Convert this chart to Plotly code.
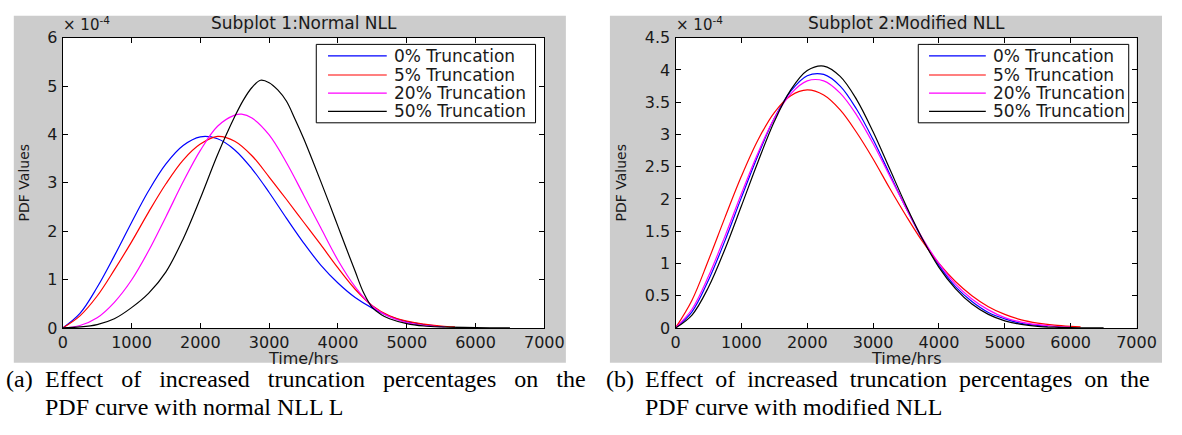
import plotly.graph_objects as go

W, H = 1182, 435

# ---------------- data (PDF values in units of 1e-4) ----------------
series_names = ["0% Truncation", "5% Truncation", "20% Truncation", "50% Truncation"]
series_colors = ["#0000ff", "#ff0000", "#ff00ff", "#000000"]

# Subplot 1 : Normal NLL
t1_blue = [0, 250, 500, 750, 1000, 1250, 1500, 1750, 2000, 2250, 2500, 2750, 3000, 3250,
           3500, 3750, 4000, 4250, 4500, 4750, 5000, 5250, 5450]
pdf1_blue = [0, 0.30, 0.84, 1.49, 2.18, 2.84, 3.39, 3.77, 3.95, 3.91, 3.68, 3.29, 2.80, 2.27,
             1.76, 1.30, 0.93, 0.63, 0.41, 0.24, 0.13, 0.07, 0.04]

t1_red = [0, 250, 500, 750, 1000, 1250, 1500, 1750, 2000, 2250, 2500, 2750, 3000, 3250,
          3500, 3750, 4000, 4250, 4500, 4750, 5000, 5250, 5500, 5700]
pdf1_red = [0, 0.25, 0.66, 1.20, 1.78, 2.40, 2.98, 3.47, 3.80, 3.96, 3.86, 3.56, 3.12, 2.66,
            2.19, 1.72, 1.24, 0.80, 0.46, 0.25, 0.14, 0.08, 0.04, 0.02]

t1_mag = [0, 250, 500, 750, 1000, 1250, 1500, 1750, 2000, 2250, 2500, 2600, 2750, 3000, 3250,
          3500, 3750, 4000, 4250, 4500, 4750, 5000, 5250, 5550]
pdf1_mag = [0, 0.05, 0.21, 0.53, 0.99, 1.60, 2.30, 3.02, 3.67, 4.17, 4.40, 4.42, 4.34, 3.99, 3.42,
            2.75, 2.07, 1.40, 0.85, 0.45, 0.23, 0.11, 0.05, 0.02]

t1_blk = [0, 250, 500, 750, 1000, 1250, 1500, 1750, 2000, 2250, 2500, 2625, 2750, 2875, 3000,
          3125, 3250, 3375, 3500, 3625, 3750, 3875, 4000, 4125, 4250, 4375, 4500, 4625, 4750,
          5000, 5250, 5500, 6000, 6500]
pdf1_blk = [0, 0.02, 0.07, 0.19, 0.42, 0.72, 1.16, 1.84, 2.68, 3.58, 4.37, 4.71, 4.97, 5.12, 5.07,
            4.92, 4.69, 4.32, 3.92, 3.48, 3.03, 2.57, 2.10, 1.63, 1.17, 0.72, 0.42, 0.28, 0.19,
            0.09, 0.04, 0.02, 0.005, 0.0]

# Subplot 2 : Modified NLL
t2_blue = [0, 250, 500, 750, 1000, 1250, 1500, 1750, 2000, 2250, 2500, 2750, 3000, 3250,
           3500, 3750, 4000, 4250, 4500, 4750, 5000, 5250, 5500, 5650]
pdf2_blue = [0, 0.25, 0.74, 1.35, 2.02, 2.67, 3.25, 3.67, 3.91, 3.93, 3.75, 3.39, 2.92, 2.39,
             1.86, 1.37, 0.97, 0.64, 0.41, 0.24, 0.14, 0.07, 0.04, 0.025]

t2_red = [0, 250, 500, 750, 1000, 1250, 1500, 1750, 2000, 2250, 2500, 2750, 3000, 3250,
          3500, 3750, 4000, 4250, 4500, 4750, 5000, 5250, 5500, 5750, 6000, 6150]
pdf2_red = [0, 0.43, 1.05, 1.71, 2.35, 2.91, 3.34, 3.60, 3.69, 3.61, 3.38, 3.03, 2.62, 2.17,
            1.74, 1.34, 1.00, 0.72, 0.50, 0.33, 0.21, 0.125, 0.074, 0.042, 0.023, 0.016]

t2_mag = [0, 250, 500, 750, 1000, 1250, 1500, 1750, 2000, 2250, 2500, 2750, 3000, 3250,
          3500, 3750, 4000, 4250, 4500, 4750, 5000, 5250, 5500, 5750, 6000]
pdf2_mag = [0, 0.29, 0.80, 1.42, 2.08, 2.71, 3.25, 3.63, 3.83, 3.83, 3.64, 3.30, 2.86, 2.36,
            1.86, 1.39, 1.00, 0.68, 0.45, 0.28, 0.16, 0.09, 0.05, 0.025, 0.012]

t2_blk = [0, 250, 500, 750, 1000, 1250, 1500, 1750, 2000, 2250, 2500, 2750, 3000, 3250,
          3500, 3750, 4000, 4250, 4500, 4750, 5000, 5250, 5500, 5750, 6000, 6250, 6500]
pdf2_blk = [0, 0.20, 0.63, 1.22, 1.89, 2.57, 3.20, 3.69, 3.99, 4.06, 3.90, 3.54, 3.04, 2.47,
            1.90, 1.38, 0.94, 0.61, 0.37, 0.21, 0.11, 0.055, 0.025, 0.011, 0.004, 0.0015, 0.0005]

x_ticks = [0, 1000, 2000, 3000, 4000, 5000, 6000, 7000]

titles = ["Subplot 1:Normal NLL", "Subplot 2:Modified NLL"]
x_label = "Time/hrs"
y_label = "PDF Values"
captions = [
    ("(a)", ["Effect", "of", "increased", "truncation", "percentages", "on", "the"],
     "PDF curve with normal NLL L"),
    ("(b)", ["Effect", "of", "increased", "truncation", "percentages", "on", "the"],
     "PDF curve with modified NLL"),
]

# ---------------- helpers (pixels -> paper fraction) ----------------
def xp(px):
    return px / W

def yp(py):
    return 1 - py / H

SANS = "DejaVu Sans"
SERIF = "Liberation Serif"
TXT = "#1a1a1a"
GREY = "#cccccc"

ax1 = dict(x0=59, x1=551, y0=30, y1=333.5)
ax2 = dict(x0=685, x1=1156, y0=30, y1=333.5)

fig = go.Figure()

sub1 = [(t1_blue, pdf1_blue), (t1_red, pdf1_red), (t1_mag, pdf1_mag), (t1_blk, pdf1_blk)]
sub2 = [(t2_blue, pdf2_blue), (t2_red, pdf2_red), (t2_mag, pdf2_mag), (t2_blk, pdf2_blk)]

for (t, v), name, col in zip(sub1, series_names, series_colors):
    fig.add_trace(go.Scatter(x=t, y=v, mode="lines", name=name, showlegend=False,
                             line=dict(color=col, width=1.2, shape="spline", smoothing=1.0),
                             xaxis="x", yaxis="y"))
for (t, v), name, col in zip(sub2, series_names, series_colors):
    fig.add_trace(go.Scatter(x=t, y=v, mode="lines", name=name, showlegend=False,
                             line=dict(color=col, width=1.2, shape="spline", smoothing=1.0),
                             xaxis="x2", yaxis="y2"))

axis_common = dict(showline=True, linecolor="black", linewidth=1, mirror="ticks",
                   ticks="inside", ticklen=5, tickcolor="black", tickwidth=1,
                   showgrid=False, zeroline=False,
                   tickfont=dict(family=SANS, size=16, color=TXT))

fig.update_layout(
    width=W, height=H,
    margin=dict(l=0, r=0, t=0, b=0),
    paper_bgcolor="white", plot_bgcolor="white",
    showlegend=False,
    xaxis=dict(domain=[xp(ax1["x0"]), xp(ax1["x1"])], range=[0, 7000], tickvals=x_ticks,
               anchor="y", **axis_common),
    yaxis=dict(domain=[yp(ax1["y1"]), yp(ax1["y0"])], range=[0, 6], dtick=1,
               anchor="x", ticklabelstandoff=1, **axis_common),
    xaxis2=dict(domain=[xp(ax2["x0"]), xp(ax2["x1"])], range=[0, 7000], tickvals=x_ticks,
                anchor="y2", **axis_common),
    yaxis2=dict(domain=[yp(ax2["y1"]), yp(ax2["y0"])], range=[0, 4.5], dtick=0.5,
                anchor="x2", ticklabelstandoff=1, **axis_common),
)

shapes = [
    dict(type="rect", xref="paper", yref="paper", x0=xp(9), x1=xp(573), y0=yp(370), y1=yp(7),
         fillcolor=GREY, line=dict(width=0), layer="below"),
    dict(type="rect", xref="paper", yref="paper", x0=xp(618), x1=xp(1182), y0=yp(370), y1=yp(7),
         fillcolor=GREY, line=dict(width=0), layer="below"),
]
for a in (ax1, ax2):
    shapes.append(dict(type="rect", xref="paper", yref="paper",
                       x0=xp(a["x0"]), x1=xp(a["x1"]), y0=yp(a["y1"]), y1=yp(a["y0"]),
                       fillcolor="white", line=dict(width=0), layer="below"))

ann = []

# legends (box, line samples, labels)
legend_boxes = [dict(x0=318, x1=542, line_x0=330, line_x1=390, text_x=396),
                dict(x0=933, x1=1148, line_x0=944, line_x1=1002, text_x=1008)]
legend_rows = [49, 69, 88, 107]
for lb in legend_boxes:
    shapes.append(dict(type="rect", xref="paper", yref="paper",
                       x0=xp(lb["x0"]), x1=xp(lb["x1"]), y0=yp(119), y1=yp(37),
                       fillcolor="white", line=dict(color="black", width=1), layer="above"))
    for name, col, ry in zip(series_names, series_colors, legend_rows):
        shapes.append(dict(type="line", xref="paper", yref="paper",
                           x0=xp(lb["line_x0"]), x1=xp(lb["line_x1"]), y0=yp(ry), y1=yp(ry),
                           line=dict(color=col, width=1.2), layer="above"))
        ann.append(dict(text=name, x=xp(lb["text_x"]), y=yp(ry), xref="paper", yref="paper",
                        xanchor="left", yanchor="middle", showarrow=False, borderpad=0,
                        font=dict(family=SANS, size=17, color=TXT)))

fig.update_layout(shapes=shapes)

for a, title, ylx in ((ax1, titles[0], 19), (ax2, titles[1], 629)):
    cx = (a["x0"] + a["x1"]) / 2
    ann.append(dict(text=title, x=xp(cx), y=yp(15), xref="paper", yref="paper",
                    xanchor="center", yanchor="middle", showarrow=False, borderpad=0,
                    font=dict(family=SANS, size=17, color=TXT)))
    ann.append(dict(text=x_label, x=xp(cx), y=yp(365), xref="paper", yref="paper",
                    xanchor="center", yanchor="middle", showarrow=False, borderpad=0,
                    font=dict(family=SANS, size=16, color=TXT)))
    ann.append(dict(text=y_label, x=xp(ylx), y=yp((a["y0"] + a["y1"]) / 2), xref="paper",
                    yref="paper", xanchor="center", yanchor="middle", showarrow=False,
                    borderpad=0, textangle=-90, font=dict(family=SANS, size=14, color=TXT)))
    ann.append(dict(text="× 10<sup>-4</sup>", x=xp(a["x0"] - 1), y=yp(16), xref="paper",
                    yref="paper", xanchor="left", yanchor="middle", showarrow=False,
                    borderpad=0, font=dict(family=SANS, size=15, color=TXT)))

# caption paragraphs: label, justified first line (word gaps widened), second line
gaps = [" \u00a0\u00a0", " \u00a0"]
for (lab, words, l2), x0, gap in zip(captions, (0, 613), gaps):
    ann.append(dict(text=lab, x=xp(x0), y=yp(387), xref="paper", yref="paper",
                    xanchor="left", yanchor="middle", showarrow=False, borderpad=0,
                    font=dict(family=SERIF, size=24, color="black")))
    ann.append(dict(text=gap.join(words), x=xp(x0 + 40), y=yp(387), xref="paper",
                    yref="paper", xanchor="left", yanchor="middle", showarrow=False,
                    borderpad=0, font=dict(family=SERIF, size=24, color="black")))
    ann.append(dict(text=l2, x=xp(x0 + 40), y=yp(416), xref="paper", yref="paper",
                    xanchor="left", yanchor="middle", showarrow=False, borderpad=0,
                    font=dict(family=SERIF, size=24, color="black")))
fig.update_layout(annotations=ann)

fig.write_html("out.html")
